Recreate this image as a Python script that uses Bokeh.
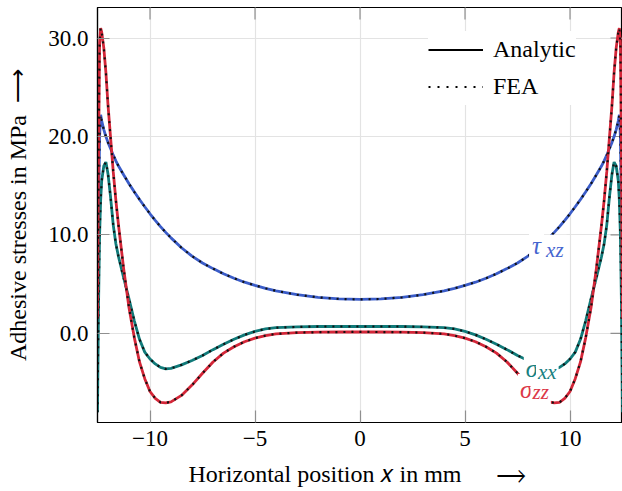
import numpy as np
from bokeh.plotting import figure
from bokeh.models import Range1d, FixedTicker, Label, Legend, LegendItem
from bokeh.embed import file_html
from bokeh.resources import INLINE

# Horizontal position x in mm
x_mm = [-12.5, -12.45, -12.4, -12.35, -12.3, -12.2, -12.1, -12.0, -11.875, -11.75, -11.625, -11.5,
        -11.25, -11.0, -10.75, -10.5, -10.25, -10.0, -9.75, -9.5, -9.25, -9.0, -8.5, -8.0,
        -7.5, -7.0, -6.5, -6.0, -5.5, -5.0, -4.5, -4.0, -3.0, -2.0, -1.0, 0.0,
        1.0, 2.0, 3.0, 4.0, 4.5, 5.0, 5.5, 6.0, 6.5, 7.0, 7.5,
        8.0, 8.5, 9.0, 9.25, 9.5, 9.75, 10.0, 10.25, 10.5, 10.75, 11.0, 11.25,
        11.5, 11.625, 11.75, 11.875, 12.0, 12.1, 12.2, 12.3, 12.35, 12.4, 12.45, 12.5]

tau_xz = [1.5, 12.0, 20.0, 22.2, 21.6, 20.7, 20.0, 19.4, 18.75, 18.1, 17.53, 17.0,
          16.08, 15.2, 14.38, 13.6, 12.86, 12.15, 11.48, 10.85, 10.26, 9.7, 8.7, 7.85,
          7.15, 6.58, 6.05, 5.6, 5.2, 4.88, 4.58, 4.32, 3.93, 3.66, 3.5, 3.45,
          3.5, 3.66, 3.93, 4.32, 4.58, 4.88, 5.2, 5.6, 6.05, 6.58, 7.15,
          7.85, 8.7, 9.7, 10.26, 10.85, 11.48, 12.15, 12.86, 13.6, 14.38, 15.2, 16.08,
          17.0, 17.53, 18.1, 18.75, 19.4, 20.0, 20.7, 21.6, 22.2, 20.0, 12.0, 1.5]

sigma_xx = [-8.0, 3.0, 10.0, 13.5, 15.5, 17.0, 17.4, 16.2, 13.8, 11.0, 9.1, 7.8,
            5.6, 3.5, 1.3, -0.6, -1.9, -2.6, -3.1, -3.45, -3.6, -3.55, -3.2, -2.75,
            -2.25, -1.65, -1.1, -0.6, -0.15, 0.2, 0.45, 0.58, 0.66, 0.7, 0.7, 0.7,
            0.7, 0.7, 0.66, 0.58, 0.45, 0.2, -0.15, -0.6, -1.1, -1.65, -2.25,
            -2.75, -3.2, -3.55, -3.6, -3.45, -3.1, -2.6, -1.9, -0.6, 1.3, 3.5, 5.6,
            7.8, 9.1, 11.0, 13.8, 16.2, 17.4, 17.0, 15.5, 13.5, 10.0, 3.0, -8.0]

sigma_zz = [1.5, 18.0, 29.5, 31.0, 30.6, 29.0, 26.5, 23.2, 19.8, 16.4, 13.5, 11.0,
            6.5, 2.6, -0.4, -2.9, -4.6, -5.9, -6.6, -7.0, -7.05, -6.95, -6.3, -5.25,
            -4.05, -2.9, -2.0, -1.35, -0.85, -0.48, -0.22, -0.05, 0.08, 0.12, 0.14, 0.15,
            0.14, 0.12, 0.08, -0.05, -0.22, -0.48, -0.85, -1.35, -2.0, -2.9, -4.05,
            -5.25, -6.3, -6.95, -7.05, -7.0, -6.6, -5.9, -4.6, -2.9, -0.4, 2.6, 6.5,
            11.0, 13.5, 16.4, 19.8, 23.2, 26.5, 29.0, 30.6, 31.0, 29.5, 18.0, 1.5]

x_ticks = [-10, -5, 0, 5, 10]
x_tick_labels = ["\u221210", "\u22125", "0", "5", "10"]
y_ticks = [0, 10, 20, 30]
y_tick_labels = ["0.0", "10.0", "20.0", "30.0"]

BLUE = "#3a5cc8"
TEAL = "#107a79"
RED = "#d42638"
TICK_GRAY = "#8f8f8f"
FONT = "Liberation Serif"

X0, X1 = -12.5, 12.5
Y0, Y1 = -9.05, 33.1

p = figure(width=622, height=491, output_backend="svg", toolbar_location=None,
           x_range=Range1d(X0, X1), y_range=Range1d(Y0, Y1),
           min_border_left=97, min_border_right=0, min_border_top=7, min_border_bottom=69)
p.background_fill_color = "white"
p.border_fill_color = "white"
p.outline_line_color = "black"
p.outline_line_width = 1.2

for ax in (p.xaxis[0], p.yaxis[0]):
    ax.major_tick_in = 12
    ax.major_tick_out = 0
    ax.minor_tick_line_color = None
    ax.major_tick_line_color = TICK_GRAY
    ax.major_tick_line_width = 1.2
    ax.axis_line_color = "black"
    ax.axis_line_width = 1.2
    ax.major_label_text_font = FONT
    ax.major_label_text_font_size = "23px"
    ax.major_label_text_color = "black"
    ax.axis_label_text_font = FONT
    ax.axis_label_text_font_size = "24px"
    ax.axis_label_text_font_style = "normal"
    ax.axis_label_text_color = "black"

p.xaxis[0].ticker = FixedTicker(ticks=x_ticks)
p.xaxis[0].major_label_overrides = dict(zip(x_ticks, x_tick_labels))
p.yaxis[0].ticker = FixedTicker(ticks=y_ticks)
p.yaxis[0].major_label_overrides = dict(zip(y_ticks, y_tick_labels))
p.xaxis[0].axis_label = "Horizontal position \U0001D465 in mm\u2003\u2002\u27F6"
p.yaxis[0].axis_label = "Adhesive stresses in MPa\u2002\u27F6"
p.xaxis[0].major_label_standoff = 8
p.yaxis[0].major_label_standoff = 9
p.xaxis[0].axis_label_standoff = 12
p.yaxis[0].axis_label_standoff = 14

p.xgrid.ticker = FixedTicker(ticks=x_ticks)
p.ygrid.ticker = FixedTicker(ticks=y_ticks)
p.grid.grid_line_color = "#e3e3e3"
p.grid.grid_line_width = 1.2

# inward ticks on the top and right frame edges
p.ray(x=x_ticks, y=[Y1] * len(x_ticks), length=12, length_units="screen",
      angle=-np.pi / 2, line_color=TICK_GRAY, line_width=1.2)
p.ray(x=[X1] * len(y_ticks), y=y_ticks, length=12, length_units="screen",
      angle=np.pi, line_color=TICK_GRAY, line_width=1.2)

for yv, col in ((tau_xz, BLUE), (sigma_xx, TEAL), (sigma_zz, RED)):
    p.line(x_mm, yv, line_color=col, line_width=2.8)
    p.line(x_mm, yv, line_color="#111111", line_width=2.2, line_dash="2 6")

# legend proxies (not visible in the plot area)
nan2 = [float("nan"), float("nan")]
leg_a = p.line(nan2, nan2, line_color="black", line_width=2.2)
leg_f = p.line(nan2, nan2, line_color="black", line_width=2.2, line_dash="2 7")
legend = Legend(items=[LegendItem(label="Analytic", renderers=[leg_a]),
                       LegendItem(label="FEA", renderers=[leg_f])],
                location=(331, 317), orientation="vertical",
                glyph_width=55, glyph_height=37, label_height=37, spacing=0, padding=4,
                margin=0, label_standoff=10, border_line_color=None,
                background_fill_color="white", background_fill_alpha=1.0,
                label_text_font=FONT, label_text_font_size="24px",
                label_text_color="black")
p.add_layout(legend)

def curve_label(x, y, text, color, size, pad):
    lab = Label(x=x, y=y, text=text, text_color=color, text_font=FONT,
                text_font_style="italic", text_font_size=size, text_baseline="alphabetic",
                text_align="left", background_fill_color="white", background_fill_alpha=1.0,
                padding=pad)
    p.add_layout(lab)

curve_label(8.05, 8.93, "\u03C4", "#4666cf", "25px", 3)
curve_label(8.72, 8.5, "xz", "#4666cf", "21px", 3)
curve_label(7.52, -5.7, "\u03C3", "#dc3848", "25px", 2)
curve_label(8.12, -6.0, "zz", "#dc3848", "21px", 2)
curve_label(7.8, -3.6, "\u03C3", "#17807f", "25px", 2)
curve_label(8.38, -3.9, "xx", "#17807f", "21px", 2)

open("out.html", "w").write(file_html(p, INLINE))
